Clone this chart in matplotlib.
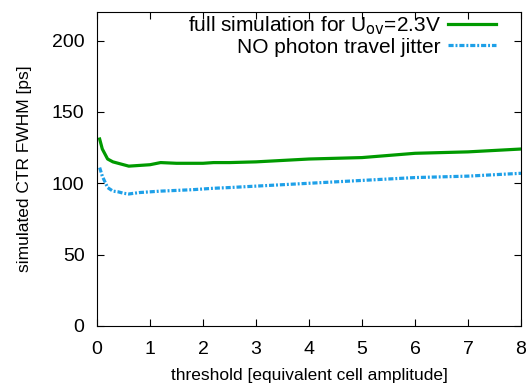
import numpy as np
import matplotlib.pyplot as plt

# threshold values (equivalent cell amplitude)
thr = [0.05, 0.1, 0.2, 0.3, 0.4, 0.5, 0.6, 0.8, 1.0, 1.2, 1.5, 1.8, 2.0, 2.2, 2.5,
       3.0, 3.5, 4.0, 4.5, 5.0, 5.5, 6.0, 6.5, 7.0, 7.5, 8.0]
# CTR FWHM [ps]
ctr_full = [131, 124, 117, 115, 114, 113, 112, 112.5, 113, 114.5, 114, 114, 114, 114.5, 114.5,
            115, 116, 117, 117.5, 118, 119.5, 121, 121.5, 122, 123, 124]
ctr_nojit = [111, 105, 97, 94.5, 94, 93, 92.5, 93.5, 94, 94.5, 95, 95.5, 96, 96.5, 97,
             98, 99, 100, 101, 102, 103, 104, 104.5, 105, 106, 107]

plt.rcParams['font.family'] = ['Liberation Sans', 'DejaVu Sans']

fig = plt.figure(figsize=(5.32, 3.87), dpi=100)
ax = fig.add_axes([97 / 532, 1 - 326 / 387, (521 - 97) / 532, (326 - 12) / 387])

ax.plot(thr, ctr_full, color='#009a00', lw=2.3,
        label='full simulation for U$_{\\mathrm{ov}}$=2.3V')
ax.plot(thr, ctr_nojit, color='#1ea0e8', lw=2.3, dashes=(1.6, 0.6, 0.6, 0.6),
        label='NO photon travel jitter')

ax.set_xlim(0, 8)
ax.set_ylim(0, 220)
ax.set_xticks(range(0, 9))
ax.set_yticks(range(0, 201, 50))
ax.tick_params(direction='in', top=True, right=True, labelsize=14, length=5)
ax.tick_params(axis='x', pad=11)
ax.tick_params(axis='y', pad=9)
ax.set_xlabel('threshold [equivalent cell amplitude]', fontsize=12.5, labelpad=7)
ax.set_ylabel('simulated CTR FWHM [ps]', fontsize=12.5, labelpad=14)

leg = ax.legend(loc='upper right', bbox_to_anchor=((498 - 97) / 424, 1.0),
                frameon=False, fontsize=15, markerfirst=False,
                handlelength=2.3, borderpad=0, borderaxespad=0.1,
                labelspacing=0.05, handletextpad=0.35)
for t in leg.get_texts():
    t.set_ha('right')

fig.savefig('out.png', dpi=100)
